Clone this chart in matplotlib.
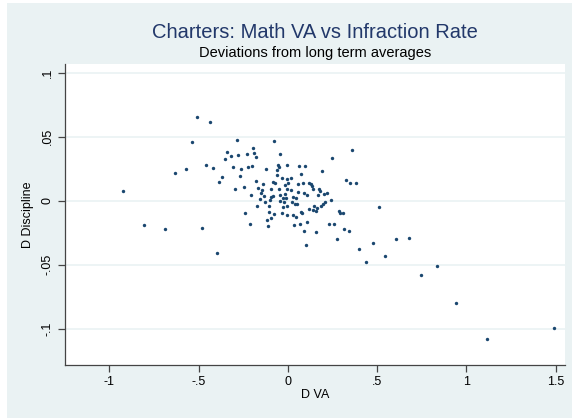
import matplotlib
matplotlib.use("Agg")
import matplotlib.pyplot as plt
from matplotlib.patches import Rectangle

plt.rcParams['font.family'] = ['Liberation Sans', 'DejaVu Sans']

# Data (D VA, D Discipline)
d_va = [
    -0.509, -0.434, -0.535, -0.457, -0.417, -0.568, -0.632, -0.353, -0.369, -0.384,
    -0.923, -0.286, -0.076, -0.193, -0.339, -0.188, -0.279, -0.230, -0.317, -0.044,
    -0.178, -0.307, -0.221, -0.199, -0.057, -0.051, -0.006, -0.262, -0.124, -0.059,
    -0.269, -0.059, -0.032, -0.176, -0.085, -0.073, -0.137, -0.004, 0.003, -0.247,
    -0.165, -0.092, -0.049, -0.004, -0.294, -0.014, 0.358, 0.248, 0.064, 0.096,
    0.190, 0.074, 0.018, 0.326, 0.057, 0.087, 0.119, 0.128, 0.134, 0.143,
    0.176, 0.018, 0.348, -0.206, -0.150, -0.145, -0.132, -0.094, -0.085, -0.157,
    -0.126, -0.100, -0.042, -0.025, -0.014, -0.045, -0.021, -0.173, -0.107, -0.025,
    -0.006, -0.010, -0.104, -0.077, -0.238, -0.031, -0.003, -0.096, -0.118, -0.213,
    -0.109, 0.055, 0.089, 0.108, 0.169, 0.203, 0.218, 0.179, 0.031, 0.048,
    0.022, 0.039, 0.052, 0.240, 0.210, 0.199, 0.186, 0.147, 0.165, 0.143,
    0.156, 0.117, 0.076, 0.081, 0.285, 0.294, 0.308, 0.029, 0.044, 0.106,
    0.070, 0.036, 0.229, 0.261, 0.317, 0.341, 0.092, 0.158, 0.274, 0.100,
    0.380, 0.511, 0.604, 0.679, 0.477, 0.399, 0.436, 0.546, 0.838, 0.748,
    0.944, 1.118, 1.491, -0.804, -0.686, -0.479, -0.398,
]
d_discipline = [
    0.0652, 0.0615, 0.0456, 0.0277, 0.0255, 0.0250, 0.0213, 0.0327, 0.0183, 0.0146,
    0.0076, 0.0472, 0.0464, 0.0412, 0.0380, 0.0375, 0.0357, 0.0363, 0.0347, 0.0363,
    0.0341, 0.0266, 0.0266, 0.0271, 0.0281, 0.0263, 0.0281, 0.0245, 0.0248, 0.0240,
    0.0195, 0.0203, 0.0175, 0.0156, 0.0144, 0.0136, 0.0133, 0.0167, 0.0141, 0.0105,
    0.0102, 0.0091, 0.0094, 0.0088, 0.0091, 0.0120, 0.0396, 0.0331, 0.0271, 0.0271,
    0.0232, 0.0211, 0.0175, 0.0162, 0.0128, 0.0136, 0.0141, 0.0128, 0.0113, 0.0094,
    0.0091, 0.0084, 0.0141, 0.0045, 0.0063, 0.0081, 0.0034, 0.0027, 0.0037, 0.0011,
    -0.0008, 0.0005, 0.0047, 0.0023, 0.0055, -0.0005, -0.0010, -0.0044, -0.0044, -0.0047,
    -0.0041, 0.0021, -0.0086, -0.0104, -0.0098, -0.0098, -0.0109, -0.0133, -0.0148, -0.0182,
    -0.0198, 0.0068, 0.0058, 0.0047, 0.0042, 0.0050, 0.0058, 0.0078, 0.0027, 0.0021,
    -0.0013, -0.0026, -0.0028, 0.0003, -0.0008, -0.0028, -0.0039, -0.0044, -0.0057, -0.0073,
    -0.0083, -0.0065, -0.0086, -0.0098, -0.0078, -0.0098, -0.0094, -0.0114, -0.0125, -0.0169,
    -0.0182, -0.0192, -0.0180, -0.0180, -0.0221, -0.0234, -0.0239, -0.0247, -0.0302, -0.0345,
    0.0141, -0.0053, -0.0302, -0.0289, -0.0334, -0.0380, -0.0479, -0.0430, -0.0513, -0.0583,
    -0.0799, -0.1083, -0.0997, -0.0192, -0.0223, -0.0213, -0.0411,
]

x_ticks = [-1, -0.5, 0, 0.5, 1, 1.5]
x_tick_labels = ["-1", "-.5", "0", ".5", "1", "1.5"]
y_ticks = [-0.1, -0.05, 0, 0.05, 0.1]
y_tick_labels = ["-.1", "-.05", "0", ".05", ".1"]

title = "Charters: Math VA vs Infraction Rate"
subtitle = "Deviations from long term averages"

bg = "#EAF2F3"
navy = "#1A476F"

fig = plt.figure(figsize=(5.72, 4.18), dpi=100, facecolor=bg)
# thin white margin at the left and top edges of the image
fig.patches.append(Rectangle((0, 0), 7/572, 1, transform=fig.transFigure,
                             facecolor="white", edgecolor="none", zorder=0))
fig.patches.append(Rectangle((0, 1-3/418), 1, 3/418, transform=fig.transFigure,
                             facecolor="white", edgecolor="none", zorder=0))

ax = fig.add_axes([65/572, 1-365/418, 500/572, 301/418])
ax.set_facecolor("white")

ax.scatter(d_va, d_discipline, s=6, color=navy, linewidths=0, zorder=3)

ax.set_xlim(-1.248, 1.553)
ax.set_ylim(-0.1284, 0.1068)

ax.set_xticks(x_ticks)
ax.set_xticklabels(x_tick_labels)
ax.set_yticks(y_ticks)
ax.set_yticklabels(y_tick_labels, rotation=90, va="center")

ax.grid(axis="y", color=bg, linewidth=1.2, zorder=0)
ax.grid(axis="x", visible=False)

for s in ["top", "right"]:
    ax.spines[s].set_visible(False)
for s in ["left", "bottom"]:
    ax.spines[s].set_color("#444444")
    ax.spines[s].set_linewidth(0.9)

ax.tick_params(axis="both", direction="out", length=5, width=0.9, color="#444444",
               labelsize=9, labelcolor="black", pad=3)

ax.set_xlabel("D VA", fontsize=9, labelpad=1)
ax.set_ylabel("D Discipline", fontsize=9, labelpad=6)

fig.text(315/572, 1-32/418, title, ha="center", va="center", fontsize=14.5, color="#22386A")
fig.text(315/572, 1-53/418, subtitle, ha="center", va="center", fontsize=10.5, color="black")

fig.savefig("out.png", dpi=100, facecolor=bg)
